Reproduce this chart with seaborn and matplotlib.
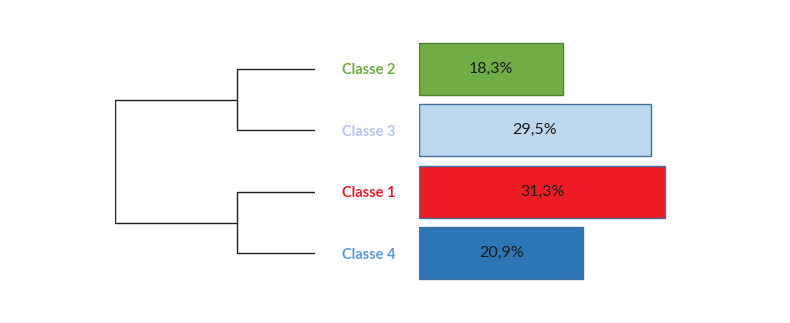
import matplotlib
matplotlib.use("Agg")
import matplotlib.pyplot as plt
import seaborn as sns
import pandas as pd

# données
classes = ['Classe 2', 'Classe 3', 'Classe 1', 'Classe 4']
pourcentages = [18.3, 29.5, 31.3, 20.9]
labels = ['18,3%', '29,5%', '31,3%', '20,9%']
# hauteurs de fusion du dendrogramme (paires puis racine)
h_paires = [1.0, 1.0]
h_racine = 2.55

couleurs = ['#70AD47', '#BDD7EE', '#ED1C24', '#2E75B6']
bords = ['#507E32', '#41719C', '#41719C', '#41719C']
couleurs_txt = ['#70AD47', '#B4C7E7', '#E3202E', '#5B9BD5']

sns.set_style('white')
plt.rcParams['font.family'] = ['Lato', 'DejaVu Sans']

fig = plt.figure(figsize=(7.9, 3.23), dpi=100)
W, H = 790, 323
bas = (323 - 284) / H
haut = 246 / H

ax = fig.add_axes([419 / W, bas, 300 / W, haut])
df = pd.DataFrame({'classe': classes, 'pct': pourcentages})
sns.barplot(data=df, x='pct', y='classe', hue='classe', palette=couleurs,
            legend=False, width=0.84, ax=ax, saturation=1)
for i, p in enumerate(ax.patches):
    p.set_edgecolor(bords[i])
    p.set_linewidth(1)
for i, v in enumerate(pourcentages):
    ax.text(v / 2, i, labels[i], ha='center', va='center', fontsize=11.5, color='#1a1a1a')
ax.set_xlim(0, 31.3 * 300 / 246)
ax.set_ylim(3.5, -0.5)
ax.set_xlabel('')
ax.set_ylabel('')
ax.set_xticks([])
ax.tick_params(axis='y', length=0, pad=17)
for t, c in zip(ax.get_yticklabels(), couleurs_txt):
    t.set_color(c)
    t.set_fontweight('bold')
    t.set_fontsize(10.5)
sns.despine(ax=ax, left=True, bottom=True)

# dendrogramme
axd = fig.add_axes([115 / W, bas, 200 / W, haut], sharey=ax)
lc = dict(color='#222222', lw=1)
for (a, b), h in zip([(0, 1), (2, 3)], h_paires):
    axd.plot([0, h, h, 0], [a, a, b, b], **lc)
m1 = (0 + 1) / 2
m2 = (2 + 3) / 2
axd.plot([h_paires[0], h_racine, h_racine, h_paires[1]], [m1, m1, m2, m2], **lc)
axd.set_xlim(h_racine, 0)
axd.axis('off')

fig.savefig('out.png', dpi=100)
